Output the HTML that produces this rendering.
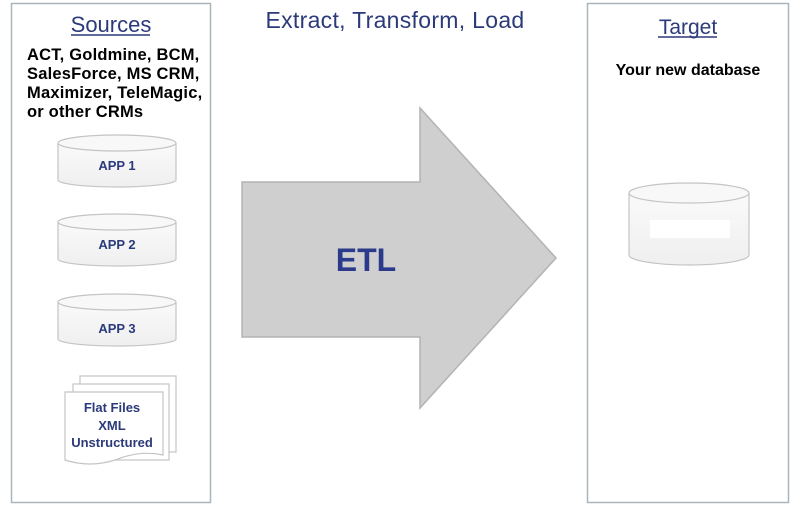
<!DOCTYPE html>
<html><head><style>
body{margin:0;width:799px;height:517px;background:#fff;overflow:hidden;font-family:"Liberation Sans",Arial,sans-serif}
</style></head><body>
<svg width="799" height="517" xmlns="http://www.w3.org/2000/svg" font-family="Liberation Sans, Arial, sans-serif">
<defs>
<linearGradient id="cg" x1="0" y1="0" x2="0" y2="1"><stop offset="0" stop-color="#fafafa"/><stop offset="1" stop-color="#efefef"/></linearGradient>
</defs>
<rect x="11.5" y="3.5" width="199" height="499" fill="#fff" stroke="#a9b5bb" stroke-width="1.5"/>
<rect x="587.5" y="3.5" width="201" height="499" fill="#fff" stroke="#a9b5bb" stroke-width="1.5"/>
<text x="111" y="32" font-size="22" fill="#2b3a7a" text-anchor="middle">Sources</text>
<line x1="71" y1="35" x2="150" y2="35" stroke="#2b3a7a" stroke-width="1.5"/>
<g font-size="16.5" font-weight="bold" fill="#000" letter-spacing="0.2">
<text x="27" y="60">ACT, Goldmine, BCM,</text>
<text x="27" y="79">SalesForce, MS CRM,</text>
<text x="27" y="98">Maximizer, TeleMagic,</text>
<text x="27" y="117">or other CRMs</text>
</g>
<text x="395" y="28" font-size="23" fill="#2b3a7a" text-anchor="middle" letter-spacing="0.3">Extract, Transform, Load</text>
<text x="688" y="34" font-size="21" fill="#2b3a7a" text-anchor="middle">Target</text>
<line x1="658" y1="37" x2="717" y2="37" stroke="#2b3a7a" stroke-width="1.5"/>
<text x="688" y="75" font-size="16" font-weight="bold" fill="#000" text-anchor="middle">Your new database</text>
<g stroke="#c4c4c4" stroke-width="1.2" fill="url(#cg)">
<path d="M58 143 V180 A59 7 0 0 0 176 180 V143"/><ellipse cx="117" cy="143" rx="59" ry="8" fill="#f8f8f8"/>
<path d="M58 222 V259 A59 7 0 0 0 176 259 V222"/><ellipse cx="117" cy="222" rx="59" ry="8" fill="#f8f8f8"/>
<path d="M58 302 V339 A59 7 0 0 0 176 339 V302"/><ellipse cx="117" cy="302" rx="59" ry="8" fill="#f8f8f8"/>
<path d="M629 193 V255 A60 10 0 0 0 749 255 V193"/><ellipse cx="689" cy="193" rx="60" ry="10" fill="#f8f8f8"/>
</g>
<rect x="650" y="220" width="80" height="18" fill="#fff"/>
<g font-size="13" font-weight="bold" fill="#2b3a7a" text-anchor="middle">
<text x="117" y="170">APP 1</text><text x="117" y="249">APP 2</text><text x="117" y="333">APP 3</text>
</g>
<g stroke="#c4c4c4" stroke-width="1.2" fill="#fff">
<rect x="80" y="376" width="96" height="76"/>
<rect x="73" y="384" width="96" height="76"/>
<path d="M65 392 H163 V455 Q140 450 115 460 Q90 468 65 460 Z"/>
</g>
<g font-size="13" font-weight="bold" fill="#2b3a7a" text-anchor="middle">
<text x="112" y="412">Flat Files</text><text x="112" y="430">XML</text><text x="112" y="447">Unstructured</text>
</g>
<path d="M242 182 H420 V108 L556 258 L420 408 V337 H242 Z" fill="#cfcfcf" stroke="#b3b3b3" stroke-width="1.5"/>
<text x="366" y="271" font-size="32" font-weight="bold" fill="#2b3a8a" text-anchor="middle">ETL</text>
</svg>
</body></html>
